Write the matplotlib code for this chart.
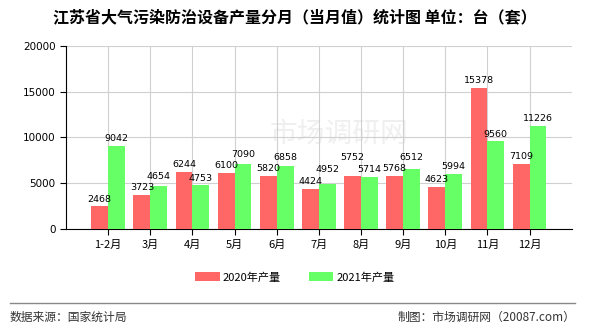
import matplotlib
matplotlib.use("Agg")
import matplotlib.pyplot as plt
import numpy as np

plt.rcParams['font.family'] = ['Noto Sans CJK SC', 'DejaVu Sans']

# 月份与两年产量（台/套）
months = ['1-2月', '3月', '4月', '5月', '6月', '7月', '8月', '9月', '10月', '11月', '12月']
prod_2020 = [2468, 3723, 6244, 6100, 5820, 4424, 5752, 5768, 4623, 15378, 7109]
prod_2021 = [9042, 4654, 4753, 7090, 6858, 4952, 5714, 6512, 5994, 9560, 11226]
yticks = [0, 5000, 10000, 15000, 20000]

RED = '#FF6666'
GREEN = '#66FF66'

fig = plt.figure(figsize=(5.9, 3.3), dpi=100)
ax = fig.add_axes([0.112, 0.306, 0.857, 0.555])

x = np.arange(len(months))
w = 0.4
b1 = ax.bar(x - w / 2, prod_2020, width=w, color=RED, label='2020年产量', zorder=3)
b2 = ax.bar(x + w / 2, prod_2021, width=w, color=GREEN, label='2021年产量', zorder=3)

# 数值标签：同月两个标签高度太近时把高的那个往上挪
pad, gap = 300, 1250
for i, (r, g) in enumerate(zip(prod_2020, prod_2021)):
    yr, yg = r + pad, g + pad
    if abs(yr - yg) < gap:
        if yg >= yr:
            yg = yr + gap
        else:
            yr = yg + gap
    ax.text(x[i] - w / 2, yr, str(r), ha='center', va='bottom',
            fontsize=6.8, family='DejaVu Sans', zorder=4)
    ax.text(x[i] + w / 2, yg, str(g), ha='center', va='bottom',
            fontsize=6.8, family='DejaVu Sans', zorder=4)

ax.set_xlim(-1, len(months))
ax.set_ylim(0, 20000)
ax.set_xticks(x)
ax.set_xticklabels(months, fontsize=8)
ax.set_yticks(yticks)
ax.set_yticklabels([str(t) for t in yticks], fontsize=7.5, family='DejaVu Sans')
ax.grid(True, color='#d0d0d0', linewidth=0.8, zorder=0)
for s in ['top', 'right']:
    ax.spines[s].set_visible(False)
ax.spines['left'].set_color('black')
ax.spines['bottom'].set_color('black')
ax.tick_params(length=4, width=0.8, color='black')

# 水印
ax.text(0.54, 0.52, '市场调研网', transform=ax.transAxes, fontsize=20,
        color='#cccccc', alpha=0.3, ha='center', va='center', zorder=2)

fig.text(0.5, 0.948, '江苏省大气污染防治设备产量分月（当月值）统计图 单位：台（套）',
         ha='center', va='center', fontsize=11.5, fontweight='bold')

fig.legend(handles=[b1, b2], loc='center', bbox_to_anchor=(0.5, 0.16), ncol=2,
           frameon=False, fontsize=8, handlelength=2.2, handleheight=0.9,
           columnspacing=2.5, handletextpad=0.3)

fig.add_artist(plt.Line2D([0.017, 0.975], [0.082, 0.082], color='#888888',
                          linewidth=1, transform=fig.transFigure))
fig.text(0.017, 0.038, '数据来源：国家统计局', ha='left', va='center',
         fontsize=8.5, color='#333333')
fig.text(0.975, 0.038, '制图：市场调研网（20087.com）', ha='right', va='center',
         fontsize=8.5, color='#333333')

fig.savefig('out.png', dpi=100)
